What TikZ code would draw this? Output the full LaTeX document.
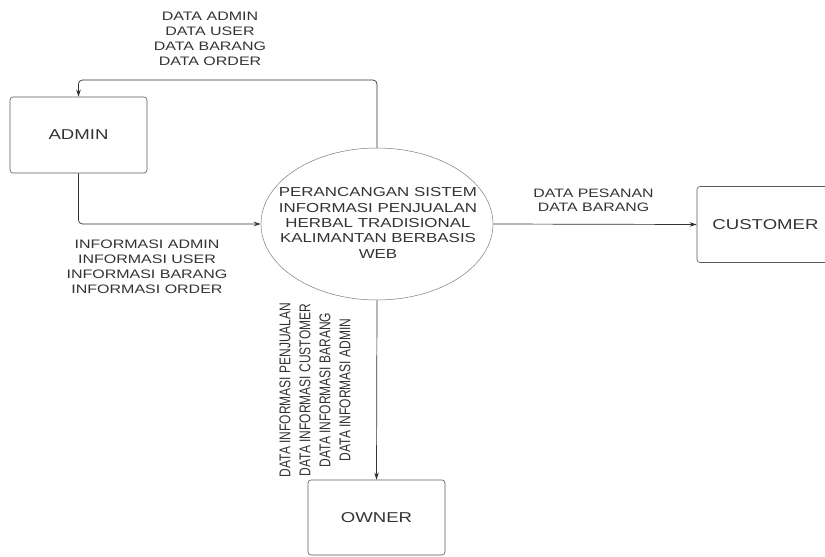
\documentclass[tikz,border=0pt]{standalone}
\usepackage{fontspec}
\setmainfont{Liberation Sans}
\usetikzlibrary{arrows.meta,shapes.geometric}
\definecolor{ink}{HTML}{333333}
\definecolor{edge}{HTML}{5A5A5A}
\tikzset{
  entity/.style={draw=edge, line width=0.6pt, rounded corners=3pt, minimum width=137pt, minimum height=76pt, inner sep=0pt, text=ink, xscale=1.3, font=\fontsize{14.3}{16}\selectfont},
  proc/.style={ellipse, draw=edge!80, line width=0.5pt, minimum width=232pt, minimum height=152pt, inner sep=0pt},
  conn/.style={draw=ink, line width=0.7pt, rounded corners=4pt, -{Stealth[length=7pt,width=4.5pt]}},
  lbl/.style={inner sep=0pt, align=center, text=ink, xscale=1.3, font=\fontsize{12.3}{15}\selectfont},
  vlbl/.style={inner sep=0pt, align=center, text=ink, xscale=1.3, rotate=90, font=\fontsize{12}{15.4}\selectfont}
}
\begin{document}
\begin{tikzpicture}[x=1pt,y=-1pt]
\useasboundingbox (0,0) rectangle (825,557);
% entities
\node[entity, minimum width=105.4pt] (admin) at (78.5,135) {ADMIN};
\node[entity, minimum width=105.4pt] (cust) at (765.5,224.5) {CUSTOMER};
\node[entity, minimum width=105.4pt, minimum height=75pt] (owner) at (376.5,517.5) {OWNER};
% process
\node[proc] (proc) at (377,224) {};
\node[lbl, font=\fontsize{13}{15.3}\selectfont] (ptext) at (378,223) {PERANCANGAN SISTEM\\INFORMASI PENJUALAN\\HERBAL TRADISIONAL\\KALIMANTAN BERBASIS\\WEB};
% connectors
\coordinate (tc) at (78.5,80);
\draw[conn] (proc.north) |- (tc) -- (admin.north);
\draw[conn] (admin.south) |- (proc.west);
\draw[conn] (proc.east) -- (cust.west);
\draw[conn] (proc.south) -- (owner.north);
% labels
\node[lbl] (ltop) at (210,39) {DATA ADMIN\\DATA USER\\DATA BARANG\\DATA ORDER};
\node[lbl] (lleft) at (147,267) {INFORMASI ADMIN\\INFORMASI USER\\INFORMASI BARANG\\INFORMASI ORDER};
\node[lbl, font=\fontsize{12.2}{14}\selectfont] (lright) at (593.5,200.5) {DATA PESANAN\\DATA BARANG};
\node[vlbl] (ldown) at (315,390) {DATA INFORMASI PENJUALAN\\DATA INFORMASI CUSTOMER\\DATA INFORMASI BARANG\\DATA INFORMASI ADMIN};
\end{tikzpicture}
\end{document}
